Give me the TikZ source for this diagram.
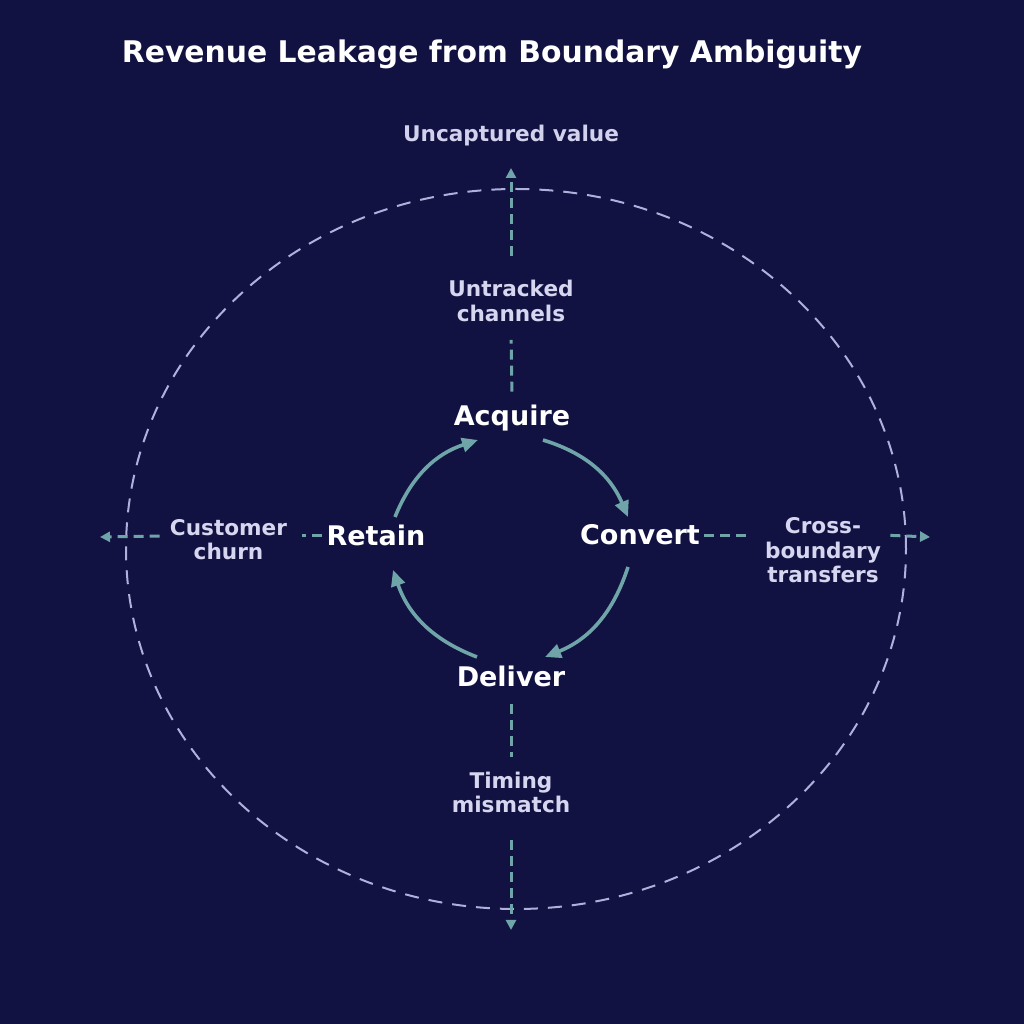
\documentclass[tikz,border=0pt]{standalone}
\usepackage{fontspec}
\setmainfont{DejaVu Sans}
\usetikzlibrary{arrows.meta, calc}
\definecolor{nightnavy}{RGB}{17, 18, 66}
\definecolor{loopteal}{RGB}{111, 164, 168}
\definecolor{rimlav}{RGB}{176, 176, 220}
\definecolor{softlav}{RGB}{214, 214, 240}

\begin{document}
\begin{tikzpicture}[x=0.5pt, y=0.5pt,
  stage/.style={font=\fontsize{13.5}{16}\selectfont\bfseries, text=white, inner sep=2pt},
  leaklbl/.style={font=\fontsize{10.8}{12.2}\selectfont\bfseries, text=softlav, align=center, inner sep=2pt},
  cyc/.style={line width=1.8pt, loopteal, -{Triangle[length=8pt, width=7pt]}},
  leak/.style={line width=1.5pt, loopteal, dash pattern=on 5pt off 3pt},
  leakout/.style={leak, -{Triangle[length=5pt, width=5pt]}},
  rim/.style={line width=1pt, rimlav, dash pattern=on 7pt off 5pt}]
  \fill[nightnavy] (0,0) rectangle (1024,1024);

  \node[font=\fontsize{14.9}{17}\selectfont\bfseries, text=white, anchor=base] (title) at (492,961) {Revenue Leakage from Boundary Ambiguity};

  % boundary
  \draw[rim] (516,475) ellipse [x radius=390, y radius=360];

  % the loop
  \node[stage, anchor=base] (acq) at (512,598) {Acquire};
  \node[stage, anchor=base] (conv) at (640,479) {Convert};
  \node[stage, anchor=base] (deliv) at (511,337) {Deliver};
  \node[stage, anchor=base] (ret) at (376,478) {Retain};

  \draw[cyc] ([shift={(31,-14)}]acq.base) to[out=-17, in=113] ([shift={(-12,28)}]conv.base);
  \draw[cyc] ([shift={(-12,-22)}]conv.base) to[out=-108, in=22] ([shift={(34,30)}]deliv.base);
  \draw[cyc] ([shift={(-34,30)}]deliv.base) to[out=159, in=-71] ([shift={(17,-24)}]ret.base);
  \draw[cyc] ([shift={(19,29)}]ret.base) to[out=68, in=-162] ([shift={(-34,-14)}]acq.base);

  % leaks
  \node[leaklbl, text=softlav!90!rimlav, anchor=base] (lost) at (511,882) {Uncaptured value};
  \node[leaklbl] (untr) at (511,723) {Untracked\\channels};
  \node[leaklbl] (timing) at (511,231.5) {Timing\\mismatch};
  \node[leaklbl] (churn) at (228.5,484.5) {Customer\\churn};
  \node[leaklbl] (cross) at (823,473.5) {Cross-\\boundary\\transfers};

  \coordinate (upTip) at (511,856);
  \coordinate (downTip) at (511,94);
  \coordinate (leftTip) at (100,487);
  \coordinate (rightTip) at (930,487);

  \draw[leak, shorten <=4.75pt, shorten >=7pt] (acq.north) -- (untr.south);
  \draw[leakout, shorten <=10pt] (untr.north) -- (upTip);
  \draw[leak, shorten <=6pt, shorten >=5.5pt] (deliv.south) -- (timing.north);
  \draw[leakout, shorten <=11.5pt] (timing.south) -- (downTip);
  \draw[leak, shorten >=5.5pt] (ret.west) -- (ret.west -| churn.east);
  \draw[leakout, shorten <=3pt] (ret.west -| churn.west) -- (leftTip);
  \draw[leak, shorten >=7.5pt] (conv.east) -- (conv.east -| cross.west);
  \draw[leakout, shorten <=2.5pt] (conv.east -| cross.east) -- (rightTip);
\end{tikzpicture}
\end{document}
